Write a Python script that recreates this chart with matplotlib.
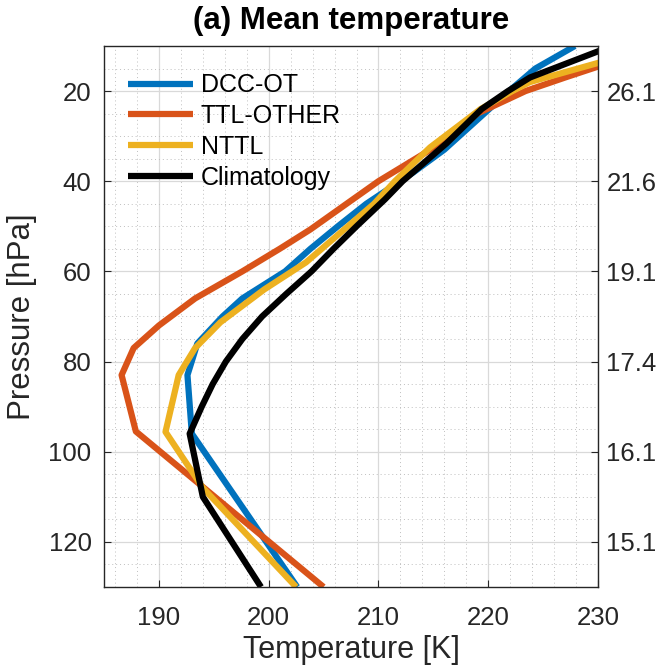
import matplotlib
matplotlib.use("Agg")
import matplotlib.pyplot as plt
from matplotlib.ticker import MultipleLocator

plt.rcParams["font.family"] = ["Liberation Sans", "DejaVu Sans"]

# profile dane: cisnienie [hPa] i temperatura [K]
p_dcc = [10, 15, 20, 27.5, 33, 38, 45, 50, 55, 60, 66, 70, 76, 83, 96, 130]
t_dcc = [227.9, 224.3, 221.9, 218.5, 216.0, 213.2, 208.9, 206.3, 203.8, 201.5, 197.6, 195.8, 193.5, 192.6, 193.0, 202.6]

p_ttl = [12, 14.5, 17, 20, 25, 30, 33.5, 40, 45, 50.7, 55, 60, 66, 72, 77, 83, 95.5, 130]
t_ttl = [233.0, 230.1, 227.0, 223.4, 219.0, 216.5, 214.4, 210.0, 207.1, 203.8, 201.0, 197.6, 193.3, 190.0, 187.7, 186.6, 187.9, 205.0]

p_nttl = [12, 13.7, 18, 20, 24, 32.5, 40, 45, 58, 64, 71.3, 77, 83, 95.6, 108, 130]
t_nttl = [232.5, 230.1, 223.8, 222.2, 219.3, 214.7, 211.5, 209.6, 203.4, 199.6, 195.6, 193.3, 191.8, 190.6, 194.0, 202.5]

p_clim = [10, 11.1, 17, 20, 24, 31.6, 40, 44, 50, 55, 60, 65, 70, 75, 80, 85, 90, 96, 110, 130]
t_clim = [231.3, 230.1, 223.8, 221.8, 219.4, 216.2, 212.2, 210.6, 208.0, 205.9, 203.9, 201.6, 199.4, 197.6, 196.1, 194.9, 193.9, 192.8, 194.0, 199.3]

p_ticks = [20, 40, 60, 80, 100, 120]
z_labels = ["26.1", "21.6", "19.1", "17.4", "16.1", "15.1"]

kolory = ["#0072BD", "#D95319", "#EDB120", "black"]
nazwy = ["DCC-OT", "TTL-OTHER", "NTTL", "Climatology"]

fig = plt.figure(figsize=(6.66, 6.68), dpi=100)
ax = fig.add_axes([0.1562, 0.1213, 0.7417, 0.8099])

serie = [(t_dcc, p_dcc), (t_ttl, p_ttl), (t_nttl, p_nttl), (t_clim, p_clim)]
for (t, p), k, n in zip(serie, kolory, nazwy):
    ax.plot(t, p, color=k, lw=4.5, label=n, solid_capstyle="butt")

ax.set_xlim(185, 230)
ax.set_ylim(130, 10)
ax.set_xticks([190, 200, 210, 220, 230])
ax.set_yticks(p_ticks)
ax.xaxis.set_minor_locator(MultipleLocator(2))
ax.yaxis.set_minor_locator(MultipleLocator(5))
ax.grid(which="major", color="0.85", lw=0.9, ls="-")
ax.grid(which="minor", color="0.75", lw=0.7, ls=(0, (1, 3)))
ax.set_axisbelow(True)
ax.tick_params(which="major", direction="in", length=5, labelsize=18.5,
               labelcolor="#262626", color="#262626")
ax.tick_params(axis="x", which="major", pad=13.5)
ax.tick_params(axis="y", which="major", pad=9)
ax.tick_params(which="minor", length=0)
for s in ax.spines.values():
    s.set_color("#262626")
    s.set_linewidth(1.0)

ax.set_xlabel("Temperature [K]", fontsize=22, color="#262626", labelpad=4)
ax.set_ylabel("Pressure [hPa]", fontsize=22.5, color="#262626", labelpad=8)
ax.set_title("(a) Mean temperature", fontsize=22.5, fontweight="bold", pad=12)

ax2 = ax.twinx()
ax2.set_ylim(130, 10)
ax2.set_yticks(p_ticks)
ax2.set_yticklabels(z_labels)
ax2.tick_params(direction="in", length=5, labelsize=18.5, labelcolor="#262626",
                color="#262626", pad=6)
for s in ax2.spines.values():
    s.set_visible(False)

ax.legend(loc="upper left", bbox_to_anchor=(0.0486, 0.9495), frameon=False,
          fontsize=18, handlelength=2.6, handletextpad=0.3, labelspacing=0.27,
          borderpad=0, borderaxespad=0)

plt.savefig("out.png", dpi=100)
